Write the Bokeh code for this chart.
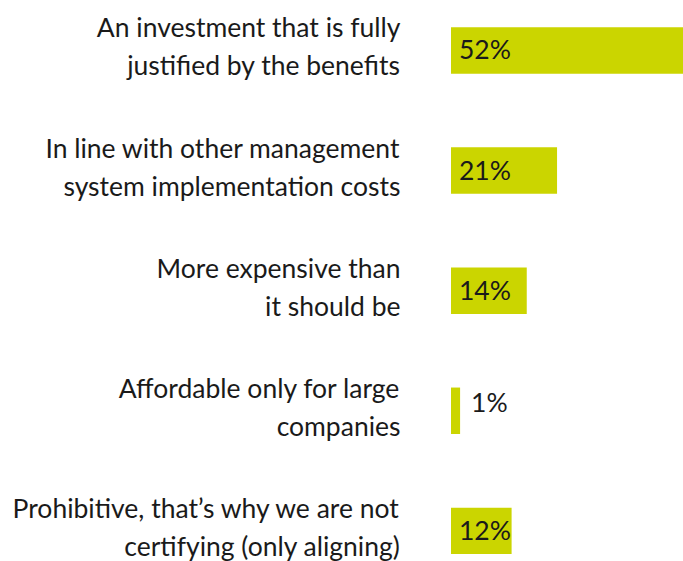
from bokeh.plotting import figure
from bokeh.models import Range1d, ColumnDataSource
from bokeh.core.properties import value
from bokeh.embed import file_html
from bokeh.resources import INLINE

# ---- data ----
categories = [
    "An investment that is fully\njustified by the benefits",
    "In line with other management\nsystem implementation costs",
    "More expensive than\nit should be",
    "Affordable only for large\ncompanies",
    "Prohibitive, that\u2019s why we are not\ncertifying (only aligning)",
]
share_labels = ["52%", "21%", "14%", "1%", "12%"]
share_bars = [52, 21, 15, 1.8, 12]   # bar lengths (%)

BAR_COLOR = "#cbd500"
TEXT_COLOR = "#1a1a1a"
FONT = "Lato"
FS = "26.5px"

pos = list(range(len(categories)))
line1 = [c.split("\n")[0] for c in categories]
line2 = [c.split("\n")[1] for c in categories]

p = figure(width=683, height=561, output_backend="svg", toolbar_location=None,
           x_range=Range1d(-89.21, 46.04), y_range=Range1d(4.255, -0.4163),
           min_border=0, outline_line_color=None)
p.axis.visible = False
p.grid.visible = False
p.background_fill_color = "white"
p.border_fill_color = "white"

src = ColumnDataSource(dict(y=pos, right=share_bars, lab=share_labels,
                            l1=line1, l2=line2))
p.hbar(y="y", left=0, right="right", height=0.387, source=src,
       fill_color=BAR_COLOR, line_color=None)

# category labels (two lines, right aligned)
p.text(x=-10, y="y", text="l1", source=src, text_align="right",
       text_baseline="alphabetic", y_offset=-23, text_font=value(FONT),
       text_font_size=FS, text_color=TEXT_COLOR)
p.text(x=-10, y="y", text="l2", source=src, text_align="right",
       text_baseline="alphabetic", y_offset=15, text_font=value(FONT),
       text_font_size=FS, text_color=TEXT_COLOR)

# value labels: inside bar when wide enough, else outside
inside = [i for i, v in enumerate(share_bars) if v >= 5]
outside = [i for i, v in enumerate(share_bars) if v < 5]
src_in = ColumnDataSource(dict(y=[pos[i] for i in inside],
                               lab=[share_labels[i] for i in inside]))
src_out = ColumnDataSource(dict(y=[pos[i] for i in outside],
                                x=[share_bars[i] for i in outside],
                                lab=[share_labels[i] for i in outside]))
p.text(x=0, y="y", text="lab", source=src_in, x_offset=8, y_offset=-1,
       text_baseline="alphabetic", text_font=value(FONT), text_font_size=FS,
       text_color=TEXT_COLOR)
p.text(x="x", y="y", text="lab", source=src_out, x_offset=11, y_offset=-9,
       text_baseline="alphabetic", text_font=value(FONT), text_font_size=FS,
       text_color=TEXT_COLOR)

open("out.html", "w").write(file_html(p, INLINE))
